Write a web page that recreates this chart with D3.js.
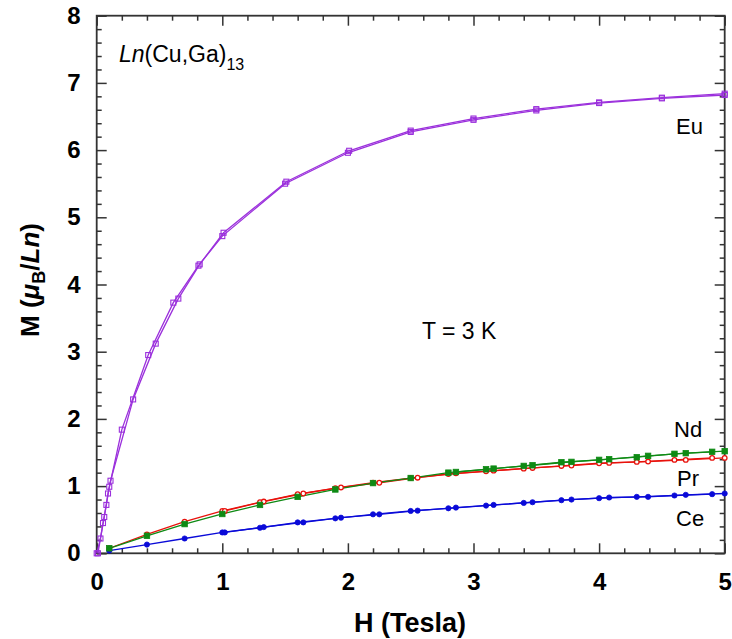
<!DOCTYPE html>
<html><head><meta charset="utf-8">
<script src="https://cdn.jsdelivr.net/npm/d3@7"></script>
<style>body{margin:0;background:#fff}svg{display:block;font-family:"Liberation Sans",Arial,sans-serif}</style>
</head><body>
<svg id="c" width="732" height="639"></svg>
<script>
// Field values (Tesla) and magnetisation (muB/Ln), two sweeps per compound
const euH_a = [0,0.03,0.06,0.09,0.2,0.41,0.61,0.81,1.0,1.5,2.0,2.5,3.0,3.5,4.0,4.5,5.0];
const euM_a = [0,0.22,0.54,0.89,1.84,2.95,3.73,4.28,4.72,5.50,5.96,6.27,6.45,6.59,6.70,6.77,6.82];
const euH_b = [0.01,0.05,0.077,0.1,0.11,0.29,0.47,0.65,0.82,1.01,1.51,2.01,2.5,3.0,3.5,4.0,4.5,5.0];
const euM_b = [0,0.45,0.72,0.99,1.08,2.29,3.12,3.79,4.30,4.77,5.53,5.99,6.29,6.47,6.61,6.71,6.78,6.84];

const ceH_a = [0.1,0.4,0.7,1.0,1.3,1.6,1.9,2.2,2.5,2.8,3.1,3.4,3.7,4.0,4.3,4.6,4.9];
const ceM_a = [0.04,0.13,0.22,0.31,0.38,0.46,0.52,0.58,0.63,0.67,0.71,0.75,0.79,0.82,0.84,0.86,0.88];
const ceH_b = [1.02,1.33,1.645,1.945,2.25,2.555,2.86,3.16,3.47,3.78,4.08,4.39,4.69,5.0];
const ceM_b = [0.31,0.39,0.46,0.53,0.58,0.635,0.68,0.72,0.76,0.80,0.83,0.84,0.87,0.89];

const prH_a = [0.1,0.4,0.7,1.0,1.3,1.6,1.9,2.2,2.5,2.8,3.1,3.4,3.7,4.0,4.3,4.6,4.9];
const prM_a = [0.075,0.28,0.47,0.63,0.76,0.88,0.97,1.05,1.12,1.18,1.22,1.26,1.30,1.34,1.36,1.39,1.42];
const prH_b = [1.02,1.33,1.645,1.945,2.25,2.555,2.86,3.16,3.47,3.78,4.08,4.39,4.69,5.0];
const prM_b = [0.63,0.77,0.89,0.98,1.05,1.125,1.19,1.23,1.27,1.305,1.345,1.365,1.39,1.42];

const ndH_a = [0.1,0.4,0.7,1.0,1.3,1.6,1.9,2.2,2.5,2.8,3.1,3.4,3.7,4.0,4.3,4.6,4.9];
const ndM_a = [0.075,0.26,0.435,0.585,0.72,0.84,0.95,1.045,1.12,1.20,1.25,1.30,1.355,1.39,1.43,1.48,1.51];
const ndH_b = [2.86,3.16,3.47,3.78,4.08,4.39,4.69,5.0];
const ndM_b = [1.21,1.26,1.31,1.36,1.40,1.45,1.49,1.52];

const xMajor = [0,1,2,3,4,5];
const yMajor = [0,1,2,3,4,5,6,7,8];

const series = [
  {name:"Ce", color:"#0a0ad8", shape:"circle", fill:true,  sweeps:[[ceH_a,ceM_a],[ceH_b,ceM_b]]},
  {name:"Pr", color:"#e8120c", shape:"circle", fill:false, sweeps:[[prH_a,prM_a],[prH_b,prM_b]]},
  {name:"Nd", color:"#0e8a14", shape:"square", fill:true,  sweeps:[[ndH_a,ndM_a],[ndH_b,ndM_b]]},
  {name:"Eu", color:"#9b30dc", shape:"square", fill:false, sweeps:[[euH_a,euM_a],[euH_b,euM_b]]}
];

const L=96.7, R=724.7, T=15.7, B=553.3;
const x = d3.scaleLinear().domain([0,5]).range([L,R]);
const y = d3.scaleLinear().domain([0,8]).range([B,T]);
const svg = d3.select("#c");
const axColor="#333";

const xMinor = d3.range(0,5.001,0.2).filter(v=>Math.abs(v-Math.round(v))>1e-6);
const yMinor = d3.range(0,8.001,0.2).filter(v=>Math.abs(v-Math.round(v))>1e-6);

function styleAxis(g){
  g.select(".domain").remove();
  g.selectAll("line").attr("stroke",axColor).attr("stroke-width",1.5);
}
// bottom
svg.append("g").attr("transform",`translate(0,${B})`)
  .call(d3.axisBottom(x).tickValues(xMinor).tickSize(-5).tickFormat("")).call(styleAxis);
svg.append("g").attr("transform",`translate(0,${B})`)
  .call(d3.axisBottom(x).tickValues(xMajor).tickSize(-10).tickPadding(20).tickFormat(d3.format("d")))
  .call(styleAxis)
  .call(g=>g.selectAll("text").attr("font-size",24).attr("font-weight","bold").attr("fill","#000").attr("font-family","Liberation Sans, Arial, sans-serif"));
// top
svg.append("g").attr("transform",`translate(0,${T})`)
  .call(d3.axisTop(x).tickValues(xMinor).tickSize(-5).tickFormat("")).call(styleAxis);
svg.append("g").attr("transform",`translate(0,${T})`)
  .call(d3.axisTop(x).tickValues(xMajor).tickSize(-10).tickFormat("")).call(styleAxis);
// left
svg.append("g").attr("transform",`translate(${L},0)`)
  .call(d3.axisLeft(y).tickValues(yMinor).tickSize(-5).tickFormat("")).call(styleAxis);
svg.append("g").attr("transform",`translate(${L},0)`)
  .call(d3.axisLeft(y).tickValues(yMajor).tickSize(-10).tickPadding(16).tickFormat(d3.format("d")))
  .call(styleAxis)
  .call(g=>g.selectAll("text").attr("font-size",24).attr("font-weight","bold").attr("fill","#000").attr("font-family","Liberation Sans, Arial, sans-serif"));
// right
svg.append("g").attr("transform",`translate(${R},0)`)
  .call(d3.axisRight(y).tickValues(yMinor).tickSize(-5).tickFormat("")).call(styleAxis);
svg.append("g").attr("transform",`translate(${R},0)`)
  .call(d3.axisRight(y).tickValues(yMajor).tickSize(-10).tickFormat("")).call(styleAxis);

// frame
svg.append("rect").attr("x",L).attr("y",T).attr("width",R-L).attr("height",B-T)
  .attr("fill","none").attr("stroke",axColor).attr("stroke-width",1.8);

const line = d3.line().x(d=>x(d[0])).y(d=>y(d[1]));
const plot = svg.append("g");
series.forEach(s=>{
  s.sweeps.forEach(([hs,ms])=>{
    const pts = hs.map((h,i)=>[h,ms[i]]);
    plot.append("path").datum(pts).attr("d",line).attr("fill","none")
      .attr("stroke",s.color).attr("stroke-width",1.3);
  });
});
series.forEach(s=>{
  s.sweeps.forEach(([hs,ms])=>{
    const pts = hs.map((h,i)=>[h,ms[i]]);
    const g = plot.append("g");
    if(s.shape==="circle"){
      g.selectAll("circle").data(pts).join("circle")
        .attr("cx",d=>x(d[0])).attr("cy",d=>y(d[1])).attr("r",s.fill?2.6:2.3)
        .attr("fill",s.fill?s.color:"#fff").attr("stroke",s.color).attr("stroke-width",s.fill?0.8:1.3);
    } else {
      const sz = s.fill?5.5:5;
      g.selectAll("rect").data(pts).join("rect")
        .attr("x",d=>x(d[0])-sz/2).attr("y",d=>y(d[1])-sz/2).attr("width",sz).attr("height",sz)
        .attr("fill",s.fill?s.color:"none").attr("stroke",s.color).attr("stroke-width",s.fill?0.8:1.1);
    }
  });
});

// labels
const lab = (txt,xx,yy,size)=>svg.append("text").attr("x",xx).attr("y",yy).attr("font-size",size).attr("fill","#000").text(txt);
lab("Eu",676,134,22);
lab("Nd",674,437,22);
lab("Pr",677,486,22);
lab("Ce",676,526,22);
lab("T = 3 K",422,339,23);

const t1 = svg.append("text").attr("x",119).attr("y",62).attr("font-size",23).attr("fill","#000");
t1.append("tspan").attr("font-style","italic").text("Ln");
t1.append("tspan").text("(Cu,Ga)");
t1.append("tspan").attr("font-size",16).attr("dy",8).text("13");

// axis titles
svg.append("text").attr("x",410).attr("y",632).attr("text-anchor","middle")
  .attr("font-size",27).attr("font-weight","bold").text("H (Tesla)");
const yt = svg.append("text").attr("transform","translate(39,280) rotate(-90)").attr("text-anchor","middle")
  .attr("font-size",26).attr("font-weight","bold");
yt.append("tspan").text("M (");
yt.append("tspan").attr("font-style","italic").text("μ");
yt.append("tspan").attr("font-size",18).attr("dy",6).text("B");
yt.append("tspan").attr("dy",-6).text("/");
yt.append("tspan").attr("font-style","italic").text("Ln");
yt.append("tspan").text(")");
</script>
</body></html>
